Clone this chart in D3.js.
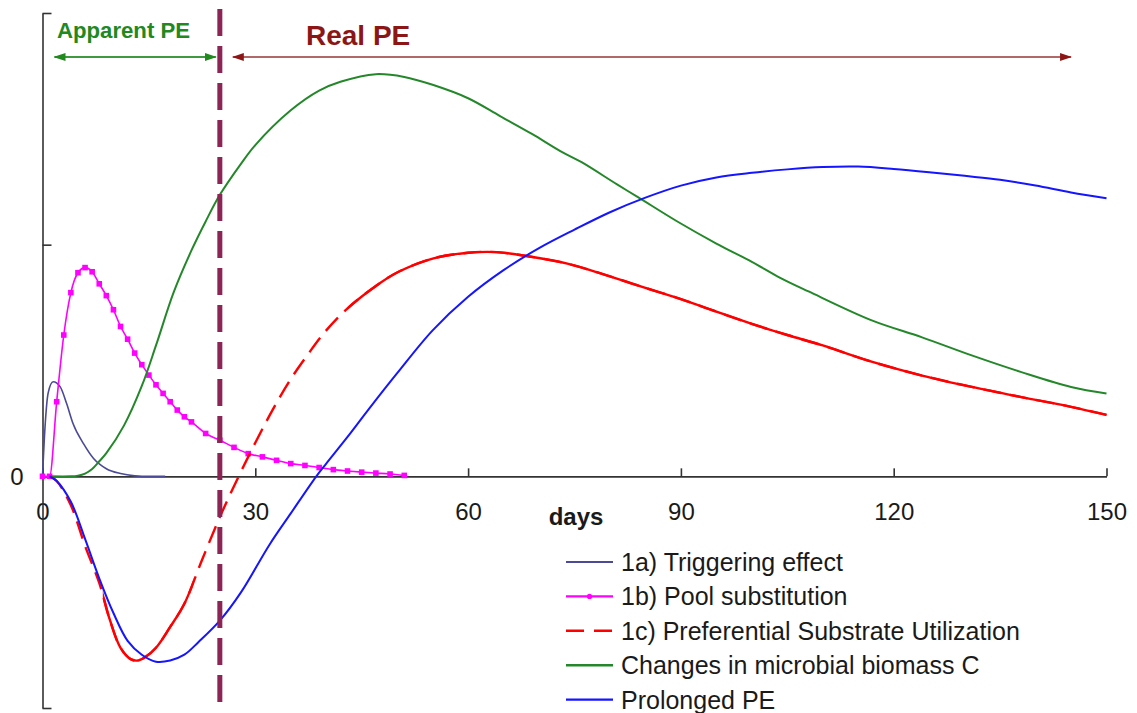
<!DOCTYPE html>
<html>
<head>
<meta charset="utf-8">
<script src="https://cdn.jsdelivr.net/npm/d3@7"></script>
<style>
  html, body { margin: 0; padding: 0; background: #ffffff; }
  svg { display: block; font-family: "Liberation Sans", Arial, Helvetica, sans-serif; }
</style>
</head>
<body>
<svg id="chart" width="1137" height="713"></svg>
<script>
// ---- Data: [day, relative priming effect] ----
const triggering = [
  [0, 0], [0.35, 0.21], [0.8, 0.36], [1.5, 0.408], [2.5, 0.386], [3.4, 0.314],
  [4.3, 0.228], [5.8, 0.14], [7.2, 0.077], [9, 0.033], [11, 0.012], [13, 0.002],
  [14, 0], [17.3, 0]
];

const poolDays = [
  0, 1, 2, 3, 4, 5, 6, 7, 8, 9, 10, 11, 12, 13, 14, 15, 16, 17, 18, 19, 20, 21,
  23, 25, 27, 29, 31, 33, 35, 37, 39, 41, 43, 45, 47, 49, 51
];
const poolValues = [
  0, 0, 0.322, 0.61, 0.793, 0.879, 0.901, 0.883, 0.831, 0.78, 0.719, 0.647,
  0.592, 0.532, 0.482, 0.437, 0.395, 0.358, 0.322, 0.286, 0.257, 0.235,
  0.185, 0.156, 0.125, 0.098, 0.084, 0.069, 0.055, 0.047, 0.038, 0.029,
  0.023, 0.018, 0.014, 0.010, 0.004
];

const preferential = [
  [1, 0], [2, -0.02], [4, -0.125], [6, -0.3], [8, -0.46], [9.5, -0.62],
  [11, -0.74], [12.5, -0.79], [13.5, -0.795], [14.5, -0.78], [16, -0.74],
  [18, -0.65], [20, -0.55], [22.5, -0.36], [25, -0.176], [27.5, -0.01],
  [30, 0.145], [32.5, 0.29], [35, 0.42], [37.5, 0.53], [40, 0.63], [43, 0.725],
  [47, 0.822], [50, 0.88], [55, 0.94], [60, 0.965], [64, 0.968], [68, 0.952],
  [74, 0.918], [79, 0.873], [84, 0.823], [90, 0.765], [95, 0.711], [100, 0.658],
  [105, 0.61], [110, 0.565], [117, 0.494], [124, 0.435], [131, 0.386],
  [138, 0.342], [145, 0.3], [150, 0.265]
];

const biomass = [
  [1, 0], [4, 0], [5, 0.003], [6, 0.012], [7, 0.032], [8, 0.065], [9, 0.1],
  [11.5, 0.22], [14, 0.39], [16, 0.565], [18.5, 0.795], [21, 0.975], [23, 1.1],
  [25, 1.215], [28, 1.35], [30, 1.43], [35, 1.58], [39, 1.665], [42, 1.703],
  [47, 1.736], [51, 1.724], [55, 1.69], [60, 1.632], [64.5, 1.555], [69, 1.478],
  [73, 1.404], [76, 1.356], [81, 1.26], [84, 1.204], [89.5, 1.1], [95, 1.005],
  [100, 0.926], [104, 0.857], [108, 0.798], [117, 0.672], [124, 0.6],
  [131, 0.522], [138, 0.45], [145, 0.386], [150, 0.358]
];

const prolonged = [
  [1, 0], [2, -0.02], [4, -0.11], [6, -0.27], [8, -0.44], [10, -0.59],
  [12, -0.71], [14, -0.77], [16, -0.8], [18, -0.795], [20, -0.77], [22, -0.715],
  [25, -0.623], [28, -0.5], [32, -0.295], [35, -0.16], [38.6, 0], [40, 0.055],
  [43, 0.17], [46, 0.29], [50, 0.445], [55, 0.63], [60, 0.775], [65, 0.89],
  [70, 0.985], [75, 1.065], [80, 1.14], [85, 1.203], [90, 1.255], [95, 1.29],
  [100, 1.31], [105, 1.325], [110, 1.335], [115, 1.337], [120, 1.327],
  [125, 1.313], [130, 1.297], [135, 1.28], [140, 1.255], [145, 1.225], [150, 1.2]
];

const seriesNames = [
  "1a) Triggering effect",
  "1b) Pool substitution",
  "1c) Preferential Substrate Utilization",
  "Changes in microbial biomass C",
  "Prolonged PE"
];

const xTicks = [0, 30, 60, 90, 120, 150];
const yTicks = [-1, 0, 1, 2];
const yTickLabels = ["", "0", "", ""];
const xAxisTitle = "days";
const phaseDay = 25;                 // end of the apparent priming phase
const apparentLabel = "Apparent PE";
const realLabel = "Real PE";
const realArrowEndDay = 145;

// ---- Layout ----
const svg = d3.select("#chart");
const x = d3.scaleLinear().domain([0, 150]).range([42.5, 1106.5]);
const y = d3.scaleLinear().domain([-1, 2]).range([708, 13]);
const lineMono = d3.line().x(d => x(d[0])).y(d => y(d[1])).curve(d3.curveMonotoneX);
const lineSmooth = d3.line().x(d => x(d[0])).y(d => y(d[1])).curve(d3.curveCatmullRom.alpha(0.5));

const colors = {
  triggering: "#4a4a96",
  pool: "#ff00ff",
  preferential: "#ff0000",
  biomass: "#24882a",
  prolonged: "#1515ff",
  phase: "#8c2456",
  apparent: "#22891f",
  real: "#8c1616",
  realLine: "#b06868",
  axis: "#333333",
  text: "#1a1a1a"
};

const defs = svg.append("defs");

// arrowheads
function arrowMarker(id, fill) {
  defs.append("marker")
    .attr("id", id)
    .attr("markerUnits", "userSpaceOnUse")
    .attr("viewBox", "0 0 12 8")
    .attr("markerWidth", 12).attr("markerHeight", 8)
    .attr("refX", 11).attr("refY", 4)
    .attr("orient", "auto-start-reverse")
    .append("path").attr("d", "M0,0L12,4L0,8Z").attr("fill", fill);
}
arrowMarker("arrowGreen", colors.apparent);
arrowMarker("arrowRed", colors.real);

// spans where the dashed substrate curve is drawn densely enough to look solid
const solidClip = defs.append("clipPath").attr("id", "solidSpan");
[[8.5, 21.3], [43, 152]].forEach(([a, b]) => {
  solidClip.append("rect")
    .attr("x", x(a)).attr("y", 0)
    .attr("width", x(b) - x(a)).attr("height", 713);
});

// ---- Axes ----
const xAxis = d3.axisBottom(x)
  .tickValues(xTicks)
  .tickFormat(d3.format("d"))
  .tickSizeInner(-8)
  .tickSizeOuter(0)
  .tickPadding(27);

const gx = svg.append("g")
  .attr("transform", `translate(0,${y(0)})`)
  .call(xAxis);
gx.select(".domain").attr("stroke", colors.axis).attr("stroke-width", 1.6);
gx.selectAll(".tick line").attr("stroke", colors.axis).attr("stroke-width", 1.6);
gx.selectAll(".tick text")
  .attr("font-size", 24).attr("fill", colors.text)
  .attr("font-family", "Liberation Sans, Arial, sans-serif");

const yAxis = d3.axisLeft(y)
  .tickValues(yTicks)
  .tickFormat((d, i) => yTickLabels[i])
  .tickSizeInner(-9)
  .tickSizeOuter(0)
  .tickPadding(19);

const gy = svg.append("g")
  .attr("transform", `translate(${x(0)},0)`)
  .call(yAxis);
gy.select(".domain").attr("stroke", colors.axis).attr("stroke-width", 1.6);
gy.selectAll(".tick line").attr("stroke", colors.axis).attr("stroke-width", 1.6);
gy.selectAll(".tick text")
  .attr("font-size", 24).attr("fill", colors.text)
  .attr("font-family", "Liberation Sans, Arial, sans-serif");

svg.append("text")
  .attr("x", 576).attr("y", 525)
  .attr("text-anchor", "middle")
  .attr("font-size", 24).attr("font-weight", "bold")
  .attr("fill", colors.text)
  .text(xAxisTitle);

// ---- Curves ----
const plot = svg.append("g");

// 1a) triggering effect
plot.append("path")
  .attr("d", lineMono(triggering))
  .attr("fill", "none")
  .attr("stroke", colors.triggering)
  .attr("stroke-width", 1.6);

// 1b) pool substitution with square markers
const pool = poolDays.map((d, i) => [d, poolValues[i]]);
plot.append("path")
  .attr("d", lineMono(pool))
  .attr("fill", "none")
  .attr("stroke", colors.pool)
  .attr("stroke-width", 1.6);
plot.selectAll("rect.pool")
  .data(pool)
  .join("rect")
  .attr("class", "pool")
  .attr("x", d => x(d[0]) - 2.8)
  .attr("y", d => y(d[1]) - 2.8)
  .attr("width", 5.6).attr("height", 5.6)
  .attr("fill", colors.pool);

// changes in microbial biomass C
plot.append("path")
  .attr("d", lineSmooth(biomass))
  .attr("fill", "none")
  .attr("stroke", colors.biomass)
  .attr("stroke-width", 2);

// 1c) preferential substrate utilization: dashed, solid where points are dense
plot.append("path")
  .attr("d", lineSmooth(preferential))
  .attr("fill", "none")
  .attr("stroke", colors.preferential)
  .attr("stroke-width", 2.4)
  .attr("stroke-dasharray", "18,9");
plot.append("path")
  .attr("d", lineSmooth(preferential))
  .attr("fill", "none")
  .attr("stroke", colors.preferential)
  .attr("stroke-width", 2.4)
  .attr("clip-path", "url(#solidSpan)");

// prolonged PE
plot.append("path")
  .attr("d", lineSmooth(prolonged))
  .attr("fill", "none")
  .attr("stroke", colors.prolonged)
  .attr("stroke-width", 2);

// ---- Phase boundary and annotations ----
svg.append("line")
  .attr("x1", x(phaseDay)).attr("x2", x(phaseDay))
  .attr("y1", 9).attr("y2", 711)
  .attr("stroke", colors.phase)
  .attr("stroke-width", 5)
  .attr("stroke-dasharray", "27,10");

const arrowY = 57;
svg.append("line")
  .attr("x1", x(0) + 12).attr("x2", x(phaseDay) - 4)
  .attr("y1", arrowY).attr("y2", arrowY)
  .attr("stroke", "#3f9a3f").attr("stroke-width", 1.8)
  .attr("marker-start", "url(#arrowGreen)")
  .attr("marker-end", "url(#arrowGreen)");

svg.append("line")
  .attr("x1", x(phaseDay) + 13).attr("x2", x(realArrowEndDay))
  .attr("y1", arrowY).attr("y2", arrowY)
  .attr("stroke", colors.realLine).attr("stroke-width", 2)
  .attr("marker-start", "url(#arrowRed)")
  .attr("marker-end", "url(#arrowRed)");

svg.append("text")
  .attr("x", 57).attr("y", 38)
  .attr("font-size", 22).attr("font-weight", "bold")
  .attr("fill", colors.apparent)
  .attr("textLength", 133).attr("lengthAdjust", "spacingAndGlyphs")
  .text(apparentLabel);

svg.append("text")
  .attr("x", 306).attr("y", 45)
  .attr("font-size", 28).attr("font-weight", "bold")
  .attr("fill", colors.real)
  .text(realLabel);

// ---- Legend ----
const legendColors = [colors.triggering, colors.pool, colors.preferential, colors.biomass, colors.prolonged];
const legend = svg.append("g");
seriesNames.forEach((name, i) => {
  const ly = 562 + i * 34.4;
  const row = legend.append("g");
  const sample = row.append("line")
    .attr("x1", 566).attr("x2", 613)
    .attr("y1", ly).attr("y2", ly)
    .attr("stroke", legendColors[i])
    .attr("stroke-width", i === 0 ? 1.8 : 2.4);
  if (i === 2) sample.attr("stroke-dasharray", "18,10");
  if (i === 1) {
    row.append("circle").attr("cx", 589.5).attr("cy", ly).attr("r", 2.6).attr("fill", colors.pool);
  }
  row.append("text")
    .attr("x", 621).attr("y", ly)
    .attr("dy", "0.36em")
    .attr("font-size", 25)
    .attr("fill", colors.text)
    .text(name);
});
</script>
</body>
</html>
